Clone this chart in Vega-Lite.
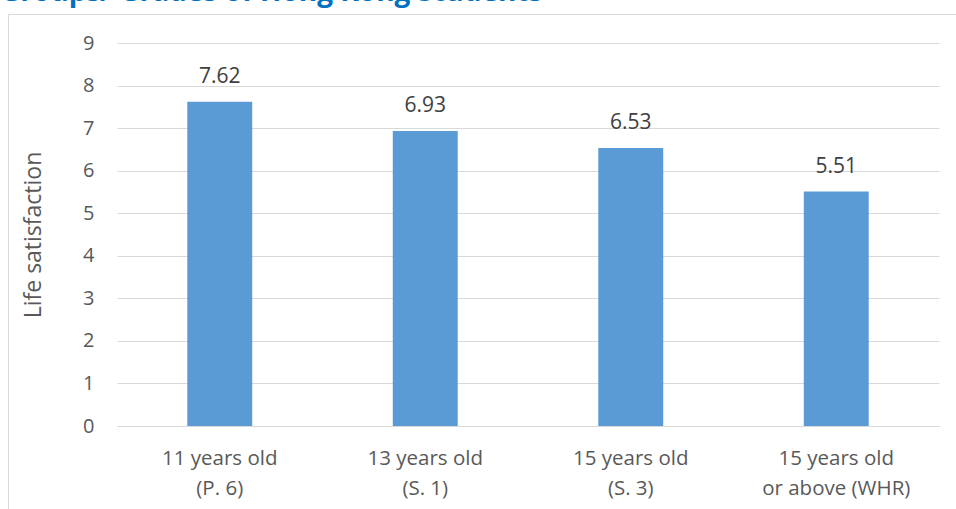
{
  "$schema": "https://vega.github.io/schema/vega-lite/v6.json",
  "width": 948,
  "height": 495,
  "autosize": {"type": "none"},
  "padding": {"left": 8, "top": 14, "right": 0, "bottom": 0},
  "background": "white",
  "title": {
    "text": "Groups/ Grades of Hong Kong Students",
    "anchor": "start",
    "frame": "group",
    "dx": -8,
    "dy": 24,
    "offset": 9,
    "baseline": "alphabetic",
    "font": "Open Sans",
    "fontSize": 28,
    "fontWeight": "bold",
    "color": "#0070C0"
  },
  "data": {
    "values": [
      {"group": "11 years old|(P. 6)", "score": 7.62},
      {"group": "13 years old|(S. 1)", "score": 6.93},
      {"group": "15 years old|(S. 3)", "score": 6.53},
      {"group": "15 years old|or above (WHR)", "score": 5.51}
    ]
  },
  "encoding": {
    "x": {
      "field": "group",
      "type": "nominal",
      "sort": null,
      "scale": {"range": [109, 931], "paddingInner": 0.684, "paddingOuter": 0.342},
      "axis": {
        "title": null,
        "offset": -83,
        "labelAngle": 0,
        "labelExpr": "split(datum.label, '|')",
        "labelFont": "Open Sans",
        "labelFontSize": 20.5,
        "labelColor": "#595959",
        "labelLineHeight": 30,
        "labelPadding": 22,
        "labelBaseline": "top",
        "ticks": false,
        "domainColor": "#d9d9d9",
        "domainWidth": 1
      }
    },
    "y": {
      "field": "score",
      "type": "quantitative",
      "scale": {"domain": [0, 9], "nice": false, "range": [412, 29]},
      "axis": {
        "title": "Life satisfaction",
        "offset": -109,
        "titleFont": "Open Sans",
        "titleFontSize": 23,
        "titleFontWeight": "normal",
        "titleColor": "#595959",
        "titlePadding": 37,
        "values": [0, 1, 2, 3, 4, 5, 6, 7, 8, 9],
        "labelFont": "Open Sans",
        "labelFontSize": 20,
        "labelColor": "#595959",
        "labelPadding": 23,
        "ticks": false,
        "domain": false,
        "gridColor": "#d9d9d9",
        "gridWidth": 1
      }
    }
  },
  "layer": [
    {"mark": {"type": "bar", "color": "#5B9BD5"}},
    {
      "mark": {
        "type": "text",
        "baseline": "bottom",
        "dy": -15,
        "font": "Open Sans",
        "fontSize": 21,
        "color": "#404040"
      },
      "encoding": {"text": {"field": "score", "type": "quantitative", "format": ".2f"}}
    }
  ],
  "config": {"view": {"stroke": "#d9d9d9", "strokeWidth": 1}}
}
